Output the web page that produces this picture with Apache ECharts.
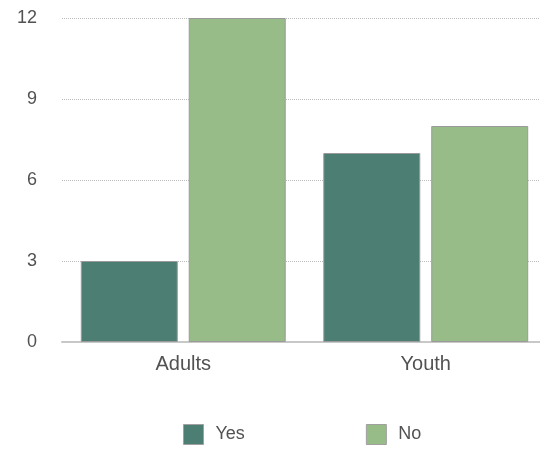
<!DOCTYPE html>
<html>
<head>
<meta charset="utf-8">
<script src="https://cdn.jsdelivr.net/npm/echarts@6/dist/echarts.min.js"></script>
<style>
  html, body { margin: 0; padding: 0; background: #fff; }
  #chart { width: 540px; height: 449px; }
</style>
</head>
<body>
<div id="chart"></div>
<script>
// Survey responses by group
const categories = ['Adults', 'Youth'];
const yesValues = [3, 7];
const noValues = [12, 8];
const yTicks = { min: 0, max: 12, interval: 3 };

const chart = echarts.init(document.getElementById('chart'), null, { renderer: 'canvas' });

const textStyle = { color: '#525252', fontFamily: 'Helvetica, Arial, "Liberation Sans", sans-serif', fontSize: 18 };

chart.setOption({
  animation: false,
  backgroundColor: '#fff',
  // plot area runs slightly past the right edge of the canvas
  grid: { left: 62, top: 18, width: 485, height: 324, outerBoundsMode: 'none', containLabel: false },
  legend: {
    left: 178,
    top: 419,
    icon: 'rect',
    itemWidth: 20,
    itemHeight: 20,
    itemGap: 121,
    itemStyle: { borderColor: '#a0a0a0', borderWidth: 1 },
    textStyle: Object.assign({}, textStyle, { padding: [0, 0, 0, 7] }),
    data: ['Yes', 'No']
  },
  xAxis: {
    type: 'category',
    data: categories,
    axisTick: { show: false },
    axisLine: { lineStyle: { color: '#c8c8c8', width: 2 } },
    axisLabel: Object.assign({}, textStyle, { fontSize: 20, margin: 12 })
  },
  yAxis: {
    type: 'value',
    min: yTicks.min,
    max: yTicks.max,
    interval: yTicks.interval,
    axisLine: { show: false },
    axisTick: { show: false },
    axisLabel: Object.assign({}, textStyle, { margin: 25 }),
    splitLine: { lineStyle: { color: '#bdbdbd', type: [1, 1], width: 1 } }
  },
  series: [
    {
      name: 'Yes',
      type: 'bar',
      data: yesValues,
      barGap: '11.3%',
      barCategoryGap: '15.5%',
      itemStyle: { color: '#4d7e74', borderColor: '#9a9a9a', borderWidth: 1 }
    },
    {
      name: 'No',
      type: 'bar',
      data: noValues,
      itemStyle: { color: '#97bc88', borderColor: '#9a9a9a', borderWidth: 1 }
    }
  ]
});
</script>
</body>
</html>
